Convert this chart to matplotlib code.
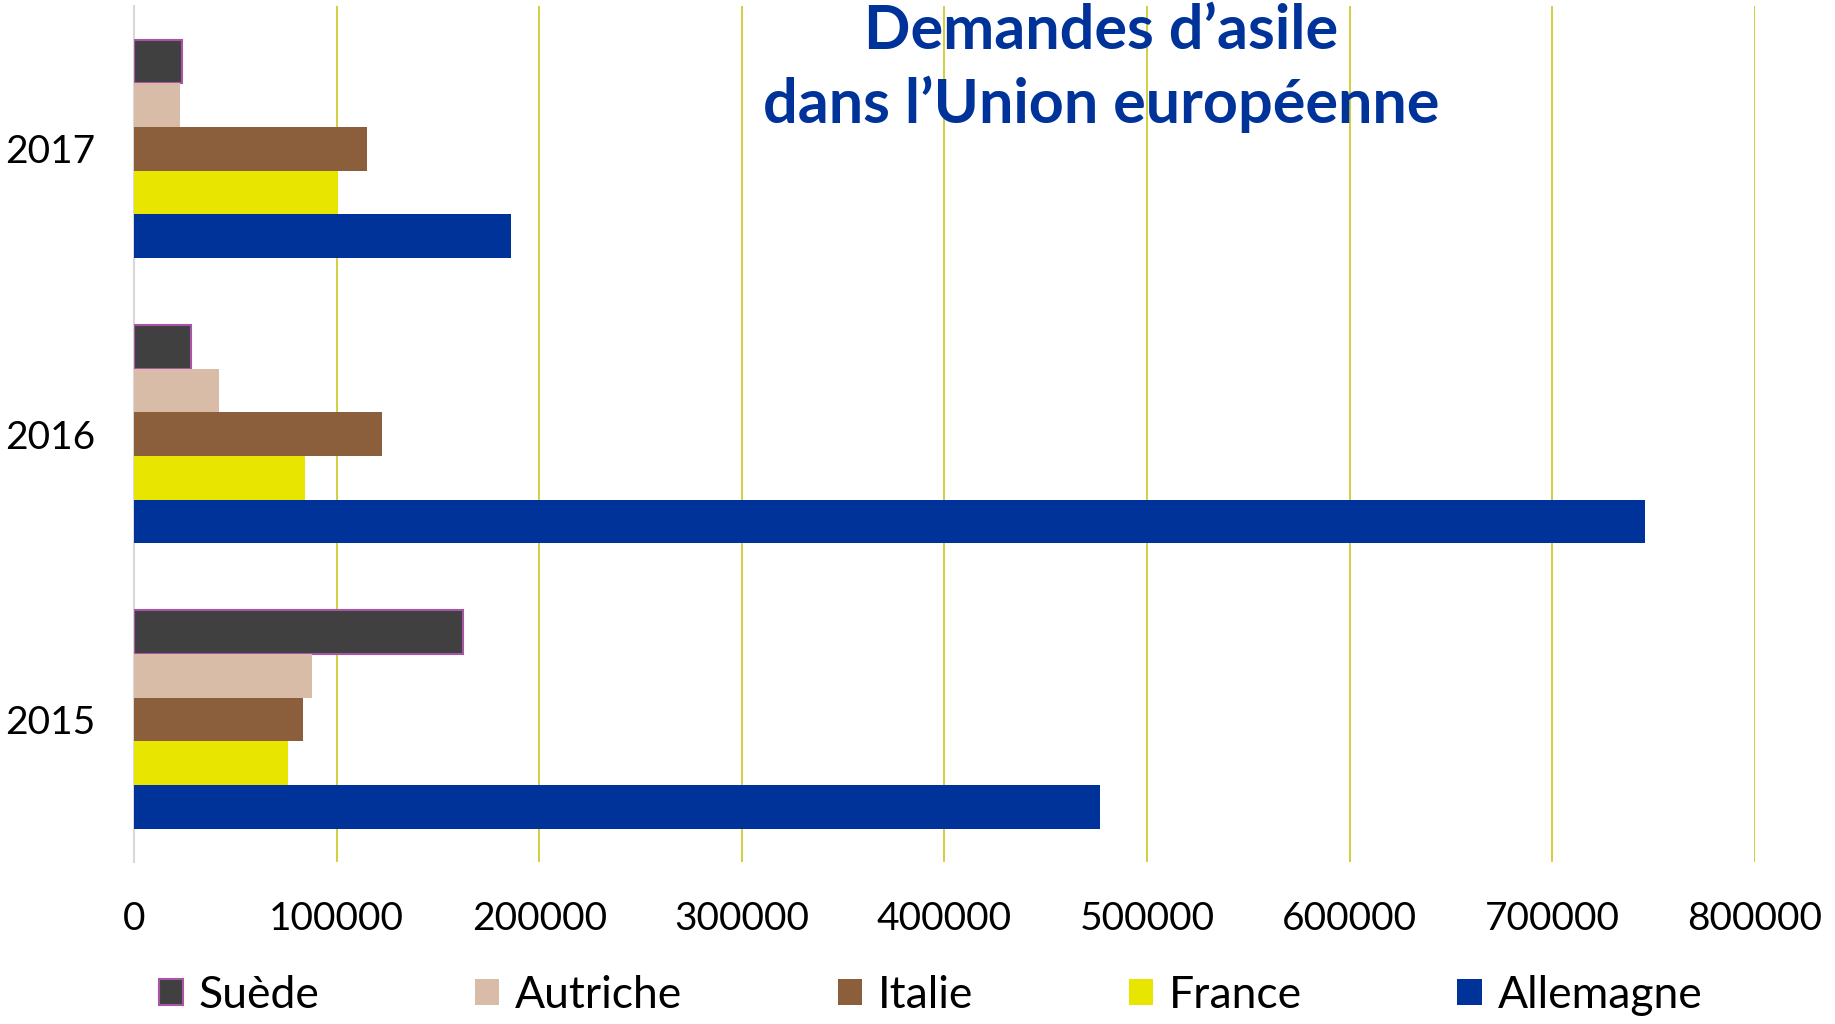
import matplotlib.pyplot as plt
import numpy as np

plt.rcParams['font.family'] = ['Lato', 'DejaVu Sans']

years = ['2015', '2016', '2017']
countries = ['Suède', 'Autriche', 'Italie', 'France', 'Allemagne']
colors = ['#404040', '#d9bca8', '#8b5e3c', '#e8e600', '#003399']

suede = [162450, 28300, 23700]
autriche = [87800, 42200, 22500]
italie = [83200, 122500, 115000]
france = [76200, 84300, 100500]
allemagne = [476600, 745800, 186000]
values = [suede, autriche, italie, france, allemagne]

fig = plt.figure(figsize=(18.35, 10.24), dpi=100)
ax = fig.add_axes([0.073, 0.158, 0.8834, 0.836])

y = np.arange(len(years))
h = 0.153
for i, (name, vals, col) in enumerate(zip(countries, values, colors)):
    offset = (2 - i) * h
    if name == 'Suède':
        ax.barh(y + offset, vals, height=h, color=col, edgecolor='#a855a8',
                linewidth=1.5, label=name, zorder=3)
    else:
        ax.barh(y + offset, vals, height=h, color=col, label=name, zorder=3)

ax.set_xlim(0, 800000)
ax.set_ylim(-0.5, 2.5)
ax.set_xticks(np.arange(0, 800001, 100000))
ax.set_xticklabels([str(v) for v in range(0, 800001, 100000)])
ax.set_yticks(y)
ax.set_yticklabels(years)
ax.tick_params(axis='x', length=0, pad=28, labelsize=28)
ax.tick_params(axis='y', length=0, pad=28, labelsize=28)
ax.grid(axis='x', color='#c8c81e', linewidth=1.2, zorder=0)
for s in ['top', 'right', 'bottom']:
    ax.spines[s].set_visible(False)
ax.spines['left'].set_color('#d9d9d9')
ax.spines['left'].set_linewidth(1.5)
ax.get_xgridlines()[0].set_visible(False)

fig.text(0.6, 0.997, 'Demandes d\u2019asile\ndans l\u2019Union européenne',
         ha='center', va='top', fontsize=44, fontweight='bold',
         color='#003399', linespacing=1.35)

fig.legend(loc='center', bbox_to_anchor=(0.507, 0.028), ncol=5, frameon=False,
           fontsize=32, handlelength=0.55, handleheight=0.55,
           handletextpad=0.35, columnspacing=3.5)

fig.savefig('out.png', dpi=100)
